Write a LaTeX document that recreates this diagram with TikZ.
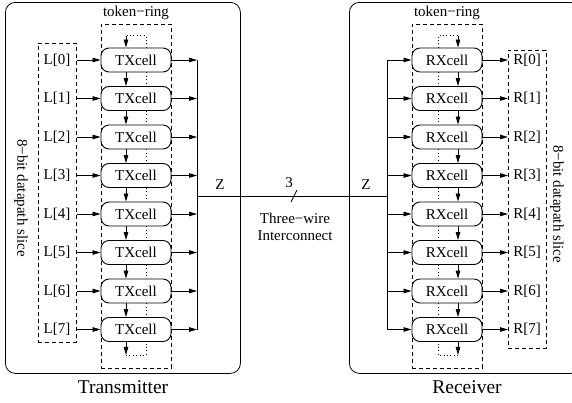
\documentclass[tikz,border=0pt]{standalone}
\usepackage{fontspec}
\setmainfont{Liberation Serif}
\usetikzlibrary{arrows.meta,calc}
\begin{document}
\begin{tikzpicture}[x=1pt,y=-1pt,
 cell/.style={draw, line width=0.9pt, rounded corners=8pt, minimum width=70pt, minimum height=24pt, inner sep=0pt, fill=white, font=\fontsize{15}{18}\selectfont},
 lbl/.style={font=\fontsize{15}{18}\selectfont, inner sep=0pt},
 ttl/.style={font=\fontsize{19.5}{22}\selectfont, inner sep=0pt},
 arr/.style={-{Triangle[length=8pt,width=4.5pt]}, line width=0.8pt},
 wire/.style={line width=0.8pt},
 dashbox/.style={draw, dash pattern=on 4pt off 3pt, line width=0.8pt, inner sep=0pt, anchor=north west},
 dot/.style={line width=0.8pt, dash pattern=on 0.8pt off 2.6pt},
 outer/.style={draw, line width=0.8pt, rounded corners=10pt, inner sep=0pt, anchor=north west}]
\useasboundingbox (0,0) rectangle (572,402);
% outer boxes
\node[outer, minimum width=235pt, minimum height=371pt] (txbox) at (5,2) {};
\node[outer, minimum width=231pt, minimum height=371pt] (rxbox) at (349,2) {};
% token ring boxes
\node[dashbox, minimum width=70pt, minimum height=344pt] (txring) at (101,24) {};
\node[dashbox, minimum width=70pt, minimum height=344pt] (rxring) at (412,24) {};
\node[lbl] (txrl) at (136,13) {token−ring};
\node[lbl] (rxrl) at (447,13) {token−ring};
% datapath boxes
\node[dashbox, minimum width=38pt, minimum height=299pt] (lbox) at (38,43) {};
\node[dashbox, minimum width=38pt, minimum height=298pt] (rbox) at (508,50) {};
\node[lbl, rotate=-90] (ltxt) at (21,198) {8−bit datapath slice};
\node[lbl, rotate=-90] (rtxt) at (557,204) {8−bit datapath slice};
% bus coordinates
\coordinate (txbus) at (197,0);
\coordinate (rxbus) at (387,0);
\foreach \i in {0,...,7}{
  \pgfmathsetmacro\yy{60+38.5*\i}
  \node[cell] (tx\i) at (136,\yy) {TXcell};
  \node[cell] (rx\i) at (447,\yy) {RXcell};
  \node[lbl] (l\i) at (57,\yy) {L[\i]};
  \node[lbl] (r\i) at (527,\yy) {R[\i]};
  \draw[arr] (lbox.east |- tx\i.west) -- (tx\i.west);
  \draw[arr] (tx\i.east) -- (txbus |- tx\i.east);
  \draw[arr] (rxbus |- rx\i.west) -- (rx\i.west);
  \draw[arr] (rx\i.east) -- (rbox.west |- rx\i.east);
}
\foreach \i [count=\j] in {0,...,6}{
  \draw[arr] ($(tx\i.south)+(-10,0)$) -- ($(tx\j.north)+(-10,0)$);
  \draw[dot] ($(tx\i.south)+(10,0)$) -- ($(tx\j.north)+(10,0)$);
  \draw[arr] ($(rx\i.south)+(11,0)$) -- ($(rx\j.north)+(11,0)$);
  \draw[dot] ($(rx\i.south)+(-9,0)$) -- ($(rx\j.north)+(-9,0)$);
}
% ring ends
\draw[dot] ($(tx0.north)+(10,0)$) -- ++(0,-12) -- ++(-20,0);
\draw[arr] ($(tx0.north)+(-10,-12)$) -- ($(tx0.north)+(-10,0)$);
\draw[arr] ($(tx7.south)+(-10,0)$) -- ++(0,13);
\draw[dot] ($(tx7.south)+(-10,13)$) -- ++(20,0) -- ++(0,-13);
\draw[dot] ($(rx0.north)+(-9,0)$) -- ++(0,-12) -- ++(20,0);
\draw[arr] ($(rx0.north)+(11,-12)$) -- ($(rx0.north)+(11,0)$);
\draw[arr] ($(rx7.south)+(11,0)$) -- ++(0,13);
\draw[dot] ($(rx7.south)+(11,13)$) -- ++(-20,0) -- ++(0,-13);
% buses
\draw[wire] (txbus |- tx0.east) -- (txbus |- tx7.east);
\draw[wire] (rxbus |- rx0.west) -- (rxbus |- rx7.west);
\coordinate (wl) at (197,196);
\coordinate (wr) at (387,196);
\draw[wire] (wl) -- (wr);
\coordinate (s1) at (291,202);
\coordinate (s2) at (297,190);
\draw[wire] (s1) -- (s2);
\node[lbl] (z1) at (220,185) {Z};
\node[lbl] (z2) at (366,185) {Z};
\node[lbl] (three) at (289,183) {3};
\node[lbl] (tw1) at (295,218) {Three−wire};
\node[lbl] (tw2) at (295,236) {Interconnect};
\node[ttl] (txt) at (123,387) {Transmitter};
\node[ttl] (rxt) at (467,387) {Receiver};
\end{tikzpicture}
\end{document}
